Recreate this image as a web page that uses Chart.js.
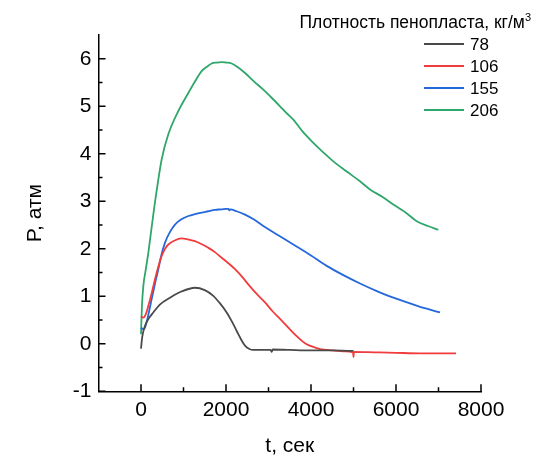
<!DOCTYPE html>
<html lang="ru">
<head>
<meta charset="utf-8">
<title>P(t)</title>
<script src="https://cdn.jsdelivr.net/npm/chart.js@4/dist/chart.umd.min.js"></script>
<style>
    body { margin: 0; background: #fff; }
    #wrap { width: 535px; height: 455px; }
</style>
</head>
<body>
<div id="wrap"><canvas id="pressureChart" width="535" height="455"></canvas></div>
<script>
// Data: time (s) and pressure (atm) per foam density
const densityLabels = ["78", "106", "155", "206"];
const legendTitle = "Плотность пенопласта, кг/м";
const xTitle = "t, сек";
const yTitle = "P, атм";

const t78 = [0, 30, 94, 180, 290, 450, 682, 950, 1270, 1500, 1701, 1850, 2016, 2150, 2252, 2350, 2447, 2550, 2642, 2800, 3050, 3075, 3100, 3500, 4000, 4500, 4950, 5000];
const p78 = [-0.1, 0.15, 0.38, 0.53, 0.66, 0.83, 0.97, 1.1, 1.18, 1.13, 1.01, 0.86, 0.66, 0.45, 0.27, 0.1, -0.04, -0.11, -0.13, -0.13, -0.13, -0.17, -0.12, -0.13, -0.14, -0.14, -0.15, -0.15];

const t106 = [0, 55, 120, 173, 250, 330, 410, 486, 560, 643, 780, 957, 1100, 1270, 1420, 1584, 1740, 1898, 2050, 2212, 2370, 2525, 2700, 2918, 3100, 3300, 3466, 3650, 3800, 3898, 4000, 4212, 4500, 4800, 4990, 5000, 5010, 5500, 6000, 6565, 7000, 7412];
const p106 = [0.58, 0.55, 0.64, 0.8, 1.06, 1.36, 1.63, 1.85, 1.99, 2.09, 2.17, 2.22, 2.2, 2.16, 2.1, 2.02, 1.93, 1.81, 1.7, 1.57, 1.42, 1.25, 1.07, 0.87, 0.68, 0.5, 0.34, 0.17, 0.05, -0.01, -0.05, -0.11, -0.14, -0.16, -0.18, -0.28, -0.17, -0.18, -0.19, -0.2, -0.2, -0.2];

const t155 = [0, 50, 94, 170, 251, 330, 408, 480, 565, 680, 800, 950, 1114, 1270, 1427, 1580, 1741, 1900, 2000, 2055, 2080, 2100, 2250, 2447, 2650, 2878, 3200, 3584, 4000, 4369, 4750, 5153, 5550, 5937, 6500, 7035];
const p155 = [0.34, 0.31, 0.34, 0.6, 0.94, 1.27, 1.57, 1.87, 2.13, 2.35, 2.51, 2.62, 2.69, 2.73, 2.76, 2.79, 2.82, 2.83, 2.84, 2.84, 2.81, 2.83, 2.79, 2.72, 2.62, 2.48, 2.3, 2.09, 1.86, 1.64, 1.45, 1.27, 1.11, 0.97, 0.8, 0.66];

const t206 = [0, 20, 55, 110, 173, 250, 345, 486, 643, 878, 1114, 1270, 1427, 1550, 1663, 1780, 1898, 2000, 2133, 2280, 2447, 2650, 2878, 3050, 3271, 3420, 3584, 3800, 4055, 4300, 4525, 4850, 5153, 5388, 5702, 5937, 6250, 6487, 6750, 6996];
const p206 = [0.2, 0.75, 1.22, 1.55, 1.92, 2.45, 3.08, 3.88, 4.41, 4.9, 5.28, 5.52, 5.74, 5.83, 5.9, 5.92, 5.93, 5.92, 5.9, 5.82, 5.7, 5.53, 5.35, 5.2, 5.0, 4.86, 4.72, 4.47, 4.23, 4.02, 3.84, 3.62, 3.42, 3.25, 3.08, 2.93, 2.75, 2.58, 2.48, 2.4];

// tick values
const xTickValues = [0, 2000, 4000, 6000, 8000];
const yTickValues = [-1, 0, 1, 2, 3, 4, 5, 6];
const xMinorTicks = [1000, 3000, 5000, 7000];
const yMinorTicks = [-0.5, 0.5, 1.5, 2.5, 3.5, 4.5, 5.5];

const seriesColors = ["#4a4a4a", "#f03c3c", "#2468dc", "#2fa76a"];
const FONT = "'Liberation Sans', Arial, sans-serif";

function toPoints(ts, ps) {
    return ts.map((t, i) => ({ x: t, y: ps[i] }));
}

document.addEventListener("DOMContentLoaded", () => {
    const allT = [t78, t106, t155, t206];
    const allP = [p78, p106, p155, p206];

    // inward ticks (major and minor) drawn by hand, plus the legend block
    const axisDecor = {
        id: "axisDecor",
        afterDraw(chart) {
            const ctx = chart.ctx;
            const xs = chart.scales.x;
            const ys = chart.scales.y;
            const area = chart.chartArea;
            ctx.save();
            ctx.strokeStyle = "#000";
            ctx.lineWidth = 1.5;
            ctx.beginPath();
            xTickValues.forEach(v => {
                const px = xs.getPixelForValue(v);
                ctx.moveTo(px, area.bottom);
                ctx.lineTo(px, area.bottom - 7);
            });
            xMinorTicks.forEach(v => {
                const px = xs.getPixelForValue(v);
                ctx.moveTo(px, area.bottom);
                ctx.lineTo(px, area.bottom - 4);
            });
            yTickValues.forEach(v => {
                const py = ys.getPixelForValue(v);
                ctx.moveTo(area.left, py);
                ctx.lineTo(area.left + 7, py);
            });
            yMinorTicks.forEach(v => {
                const py = ys.getPixelForValue(v);
                ctx.moveTo(area.left, py);
                ctx.lineTo(area.left + 4, py);
            });
            ctx.stroke();

            // legend title with superscript 3
            ctx.fillStyle = "#000";
            ctx.textBaseline = "alphabetic";
            ctx.font = "11px " + FONT;
            const supW = ctx.measureText("3").width;
            ctx.textAlign = "left";
            ctx.fillText("3", 531 - supW, 21);
            ctx.font = "17.5px " + FONT;
            ctx.textAlign = "right";
            ctx.fillText(legendTitle, 531 - supW, 28);

            // legend entries
            ctx.font = "17px " + FONT;
            ctx.textAlign = "left";
            ctx.textBaseline = "middle";
            chart.data.datasets.forEach((ds, i) => {
                const y = 44 + i * 22;
                ctx.strokeStyle = ds.borderColor;
                ctx.lineWidth = 2;
                ctx.beginPath();
                ctx.moveTo(424, y);
                ctx.lineTo(464, y);
                ctx.stroke();
                ctx.fillStyle = "#000";
                ctx.fillText(ds.label, 470, y + 1);
            });
            ctx.restore();
        }
    };

    const ctx = document.getElementById("pressureChart").getContext("2d");
    new Chart(ctx, {
        type: "line",
        data: {
            datasets: densityLabels.map((lbl, i) => ({
                label: lbl,
                data: toPoints(allT[i], allP[i]),
                borderColor: seriesColors[i],
                backgroundColor: seriesColors[i],
                borderWidth: 1.8,
                pointRadius: 0,
                fill: false,
                cubicInterpolationMode: "monotone"
            }))
        },
        options: {
            responsive: false,
            animation: false,
            layout: { padding: { left: 0, right: 54, top: 35, bottom: 0 } },
            plugins: {
                legend: { display: false },
                tooltip: { enabled: false }
            },
            scales: {
                x: {
                    type: "linear",
                    min: -1000,
                    max: 8000,
                    afterBuildTicks: s => { s.ticks = xTickValues.map(v => ({ value: v })); },
                    afterFit: s => { s.height = 63.7; },
                    grid: { display: true, drawOnChartArea: false, drawTicks: false },
                    border: { display: true, color: "#000", width: 1.5 },
                    ticks: {
                        padding: 6,
                        color: "#000",
                        maxRotation: 0,
                        autoSkip: false,
                        callback: v => String(v),
                        font: { family: FONT, size: 21 }
                    },
                    title: {
                        display: true,
                        text: xTitle,
                        color: "#000",
                        padding: 0,
                        font: { family: FONT, size: 21, lineHeight: 0.8 }
                    }
                },
                y: {
                    type: "linear",
                    min: -1,
                    max: 6.5,
                    afterBuildTicks: s => { s.ticks = yTickValues.map(v => ({ value: v })); },
                    afterFit: s => { s.width = 98.5; },
                    grid: { display: true, drawOnChartArea: false, drawTicks: false },
                    border: { display: true, color: "#000", width: 1.5 },
                    ticks: {
                        padding: 7,
                        color: "#000",
                        autoSkip: false,
                        callback: v => String(v),
                        font: { family: FONT, size: 21 }
                    },
                    title: {
                        display: true,
                        text: yTitle,
                        color: "#000",
                        padding: { top: 26.6, bottom: 0 },
                        font: { family: FONT, size: 21, lineHeight: 0.8 }
                    }
                }
            }
        },
        plugins: [axisDecor]
    });
});
</script>
</body>
</html>
